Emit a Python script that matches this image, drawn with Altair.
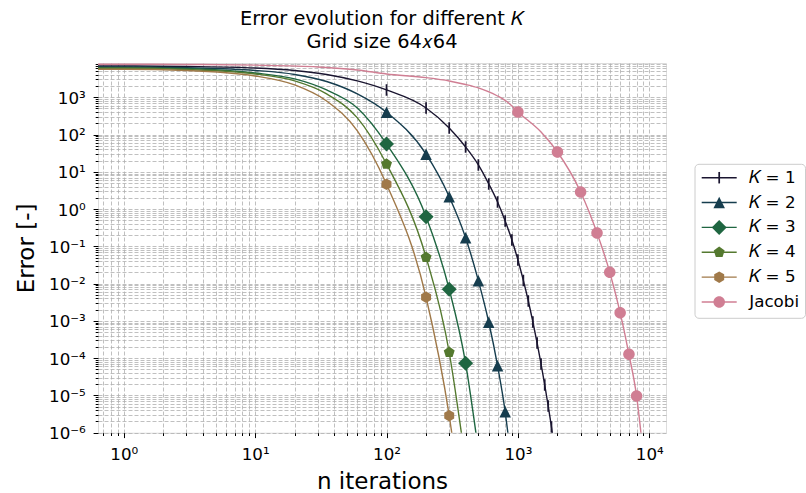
import altair as alt
import pandas as pd

# ---------------- data ----------------
series = ["𝐾 = 1", "𝐾 = 2", "𝐾 = 3", "𝐾 = 4", "𝐾 = 5", "Jacobi"]
colors = ["#1a1530", "#163d4e", "#1f6641", "#54792f", "#a07949", "#d07e93"]
marker_step = [100, 100, 100, 100, 100, 1000]

k1_n = [0.6, 1, 3, 10, 20, 35, 60, 100, 200, 300, 400, 500, 600, 700, 800, 900,
        1000, 1100, 1200, 1300, 1400, 1500, 1600, 1700, 1800, 1830]
k1_err = [6920, 6920, 6700, 6110, 5240, 4090, 2740, 1570, 516, 150, 46.3, 15.3, 4.72,
          1.55, 0.480, 0.148, 0.0431, 0.0122, 3.42e-3, 9.35e-4, 2.55e-4, 6.98e-5,
          1.91e-5, 5.21e-6, 1.43e-6, 9.5e-7]

k2_n = [0.6, 1, 3, 10, 20, 35, 60, 100, 200, 300, 400, 500, 600, 700, 800, 840]
k2_err = [6500, 6500, 6190, 5240, 4090, 2650, 1230, 396, 29.6, 2.15, 0.171, 0.0120,
          9.18e-4, 6.30e-5, 3.66e-6, 9.5e-7]

k3_n = [0.6, 1, 3, 10, 20, 35, 60, 100, 200, 300, 400, 480]
k3_err = [6230, 6230, 5930, 4490, 3100, 1570, 516, 55.8, 0.625, 7.06e-3, 7.29e-5, 9.5e-7]

k4_n = [0.6, 1, 3, 10, 20, 35, 60, 100, 200, 300, 372]
k4_err = [6000, 6000, 5570, 4220, 2740, 1230, 279, 16.2, 0.0509, 1.44e-4, 9.5e-7]

k5_n = [0.6, 1, 3, 10, 20, 35, 60, 100, 200, 300, 315]
k5_err = [5640, 5640, 5240, 3730, 2140, 796, 125, 4.63, 4.31e-3, 2.86e-6, 9.0e-7]

jac_n = [0.6, 1, 3, 10, 30, 60, 100, 200, 300, 400, 500, 700, 850, 1000, 1500, 2000,
         3000, 4000, 5000, 6000, 7000, 8000, 8650]
jac_err = [7670, 7670, 7590, 7260, 6500, 5400, 4220, 3360, 2740, 2200, 1780, 1080, 700,
           404, 117, 34.0, 2.88, 0.229, 0.0202, 1.66e-3, 1.27e-4, 9.7e-6, 9.5e-7]

# marker glyphs (custom SVG paths in a unit box)
shapes = [
    "M-0.15,-1L0.15,-1L0.15,1L-0.15,1Z",                                   # |
    "M0,-1L1,1L-1,1Z",                                                      # ^
    "M0,-1.3L1.3,0L0,1.3L-1.3,0Z",                                          # D
    "M0,-1L0.951,-0.309L0.588,0.809L-0.588,0.809L-0.951,-0.309Z",           # p
    "M0,-1L0.866,-0.5L0.866,0.5L0,1L-0.866,0.5L-0.866,-0.5Z",               # h
    "M1,0A1,1,0,1,1,-1,0A1,1,0,1,1,1,0Z",                                   # o
]

# ---------------- tables ----------------
rows = []
for name, ns, es in zip(series, [k1_n, k2_n, k3_n, k4_n, k5_n, jac_n],
                        [k1_err, k2_err, k3_err, k4_err, k5_err, jac_err]):
    for n, e in zip(ns, es):
        rows.append({"series": name, "n": n, "err": e})
df = pd.DataFrame(rows)
step = dict(zip(series, marker_step))
is_mark = [(n >= step[s]) and (float(n) % step[s] == 0) for s, n in zip(df["series"], df["n"])]
df_marks = df[is_mark]
leg_df = pd.DataFrame({"series": series})

# ---------------- axes ----------------
W, H = 568, 369.7
xticks = [0.7, 0.8, 0.9] + [m * 10 ** e for e in range(0, 4) for m in range(1, 10)] + [10000]
yticks = [m * 10.0 ** e for e in range(-6, 4) for m in range(1, 10)]
yticks = [v for v in yticks if v <= 8300]

MAJOR = "abs(log(datum.value)/LN10 - round(log(datum.value)/LN10)) < 0.001"
EXP = "round(log(datum.value)/LN10)"
LABEL = (f"({MAJOR}) ? '10' + ({EXP} < 0 ? '⁻' : '') + "
         f"['⁰','¹','²','³','⁴','⁵','⁶','⁷','⁸','⁹'][abs({EXP})] : ''")

common = dict(
    grid=True, gridColor="#b0b0b0", gridWidth=0.8, gridDash=[4, 2], domain=False,
    tickColor="black", tickWidth=1,
    tickSize={"condition": {"test": MAJOR, "value": 4.9}, "value": 2.8},
    labelExpr=LABEL, labelFont="DejaVu Sans", labelFontSize=16.7, labelColor="black",
    labelOverlap=False, labelFlush=False, labelBound=False,
    titleFont="DejaVu Sans", titleFontSize=23, titleFontWeight="normal",
    titleColor="black", titleBaseline="alphabetic", titleAlign="center",
)

x_enc = alt.X("n:Q",
              scale=alt.Scale(type="log", domain=[0.637, 13400], nice=False),
              axis=alt.Axis(values=xticks, title="n iterations", titleX=W / 2, titleY=55.5,
                            labelBaseline="alphabetic", labelPadding=21.4, **common))
y_enc = alt.Y("err:Q",
              scale=alt.Scale(type="log", domain=[1e-6, 8300], nice=False),
              axis=alt.Axis(values=yticks, title="Error [-]", titleX=-64.7, titleY=H / 2,
                            titleAngle=270, labelBaseline="alphabetic", labelOffset=6,
                            labelPadding=7.8, **common))
color_enc = alt.Color("series:N", scale=alt.Scale(domain=series, range=colors), legend=None)
shape_enc = alt.Shape("series:N", scale=alt.Scale(domain=series, range=shapes), legend=None)

lines = alt.Chart(df).mark_line(clip=True, strokeWidth=1.4, interpolate="monotone").encode(
    x=x_enc, y=y_enc, color=color_enc)
points = alt.Chart(df_marks).mark_point(filled=True, opacity=1, size=132, clip=True).encode(
    x=x_enc, y=y_enc, color=color_enc, shape=shape_enc)
main = alt.layer(lines, points)

# ---------------- legend ----------------
leg_y = alt.Y("series:N", scale=alt.Scale(type="point", domain=series, range=[114.7, 239.0], padding=0),
              axis=None)
box = alt.Chart(pd.DataFrame({"a": [0]})).mark_rect(
    fill="white", fillOpacity=0.8, stroke="#cccccc", strokeWidth=1, cornerRadius=4).encode(
    x=alt.value(597), x2=alt.value(707.5), y=alt.value(101.3), y2=alt.value(255.3))
leg_lines = alt.Chart(leg_df).mark_rule(strokeWidth=1.4).encode(
    x=alt.value(603.7), x2=alt.value(638.7), y=leg_y, color=color_enc)
leg_pts = alt.Chart(leg_df).mark_point(filled=True, opacity=1, size=132).encode(
    x=alt.value(621.2), y=leg_y, color=color_enc, shape=shape_enc)
leg_txt = alt.Chart(leg_df).mark_text(align="left", baseline="middle", font="DejaVu Sans",
                                      fontSize=16.7, color="black").encode(
    x=alt.value(651.3), y=leg_y, text="series:N")
legend = alt.layer(box, leg_lines, leg_pts, leg_txt)

chart = alt.layer(main, legend).resolve_scale(y="independent").properties(
    width=W, height=H,
    title=alt.TitleParams(text=["Error evolution for different 𝐾", "Grid size 64𝑥64"],
                          font="DejaVu Sans", fontSize=19.4, fontWeight="normal", color="black",
                          anchor="middle", frame="group", offset=4, lineHeight=23),
    padding={"left": 98, "top": 63, "right": 140, "bottom": 60.3},
    autosize=alt.AutoSizeParams(type="none"),
).configure_view(stroke="black", strokeWidth=1.1).configure(background="white")

chart.save("out.html", embed_options={"renderer": "svg", "actions": False})
